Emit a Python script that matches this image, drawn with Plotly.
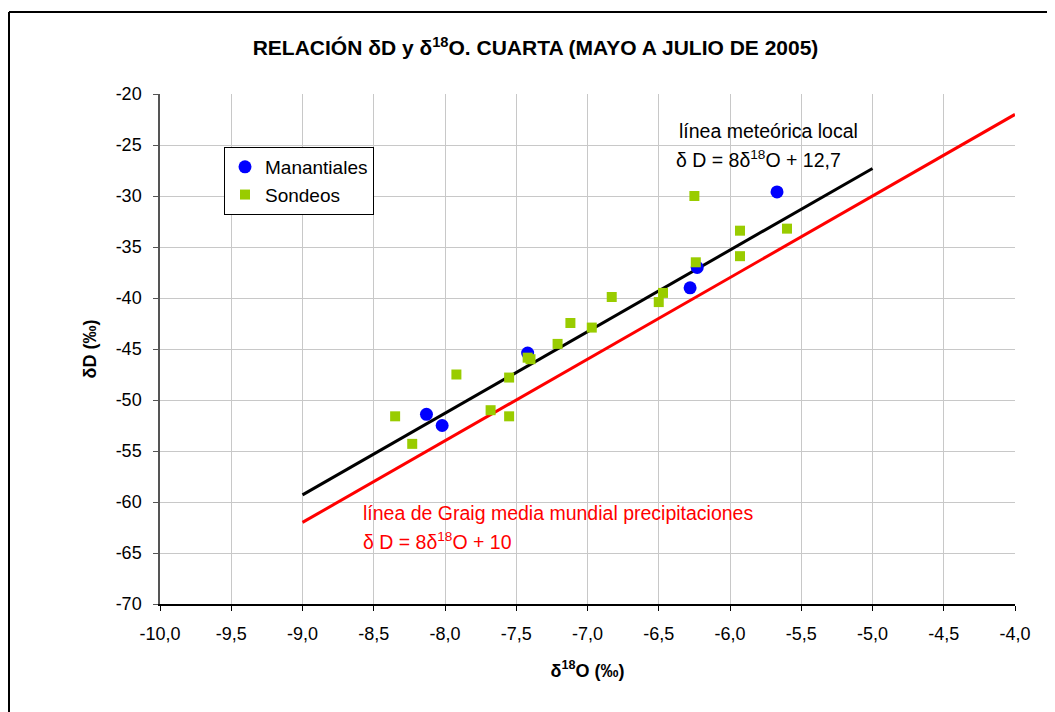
import plotly.graph_objects as go

# Data
man_x = [-5.67, -6.23, -6.28, -7.42, -8.13, -8.02]
man_y = [-29.6, -37.0, -39.0, -45.4, -51.4, -52.5]

son_x = [-8.35, -8.23, -7.92, -7.68, -7.55, -7.55, -7.42, -7.40, -7.21, -7.12,
         -6.97, -6.83, -6.47, -6.50, -6.25, -6.24, -5.93, -5.93, -5.60]
son_y = [-51.6, -54.3, -47.5, -51.0, -47.8, -51.6, -45.85, -46.0, -44.5, -42.45,
         -42.9, -39.9, -39.5, -40.4, -30.0, -36.5, -33.4, -35.9, -33.2]

lml_x = [-9.0, -5.0]
lmwl_x = [-9.0, -4.0]
lml_y = [8 * v + 12.7 for v in lml_x]
lmwl_y = [8 * v + 10 for v in lmwl_x]

x_ticks = [-10.0, -9.5, -9.0, -8.5, -8.0, -7.5, -7.0, -6.5, -6.0, -5.5, -5.0, -4.5, -4.0]
x_ticktext = [f"{v:.1f}".replace(".", ",") for v in x_ticks]
y_ticks = [-20, -25, -30, -35, -40, -45, -50, -55, -60, -65, -70]
y_ticktext = [str(v) for v in y_ticks]

FONT = "Liberation Sans, Arial, sans-serif"

L, T, PW, PH = 152, 86, 855, 510
W, H = 1055, 712

fig = go.Figure()
fig.add_trace(go.Scatter(x=lml_x, y=lml_y, mode="lines", line=dict(color="black", width=3),
                         showlegend=False, hoverinfo="skip"))
fig.add_trace(go.Scatter(x=lmwl_x, y=lmwl_y, mode="lines", line=dict(color="#ff0000", width=3),
                         showlegend=False, hoverinfo="skip"))
fig.add_trace(go.Scatter(x=man_x, y=man_y, mode="markers", name="Manantiales",
                         marker=dict(symbol="circle", size=13, color="#0000ff")))
fig.add_trace(go.Scatter(x=son_x, y=son_y, mode="markers", name="Sondeos",
                         marker=dict(symbol="square", size=10, color="#99cc00")))

fig.update_layout(
    width=W, height=H,
    paper_bgcolor="white", plot_bgcolor="white",
    margin=dict(l=L, r=W - L - PW, t=T, b=H - T - PH),
    font=dict(family=FONT, size=18, color="black"),
    title=dict(text="<b>RELACIÓN δD y δ<sup>18</sup>O. CUARTA (MAYO A JULIO DE 2005)</b>",
               x=0.5, xref="container", xanchor="center",
               y=1 - 40 / H, yref="container", yanchor="middle",
               font=dict(family=FONT, size=21, color="black")),
    showlegend=True,
    legend=dict(x=(224 - 8 - L) / PW, y=(T + PH - (147 - 8)) / PH, xanchor="left", yanchor="top",
                bordercolor="black", borderwidth=1, bgcolor="white", itemwidth=30,
                font=dict(family=FONT, size=19), tracegroupgap=0),
    xaxis=dict(range=[-10, -4], tickvals=x_ticks, ticktext=x_ticktext,
               showgrid=True, gridcolor="#c8c8c8", gridwidth=1,
               showline=True, linecolor="black", linewidth=1.5,
               ticks="outside", ticklen=5, tickcolor="black", ticklabelstandoff=8,
               tickfont=dict(family=FONT, size=18),
               zeroline=False,
               title=dict(text="<b>δ<sup>18</sup>O (‰)</b>", font=dict(family=FONT, size=18), standoff=21)),
    yaxis=dict(range=[-70, -20], tickvals=y_ticks, ticktext=y_ticktext,
               showgrid=True, gridcolor="#c8c8c8", gridwidth=1,
               showline=True, linecolor="#555555", linewidth=1.5,
               ticks="outside", ticklen=5, tickcolor="#555555", ticklabelstandoff=8,
               tickfont=dict(family=FONT, size=18),
               zeroline=False,
               title=dict(text="<b>δD (‰)</b>", font=dict(family=FONT, size=18), standoff=14)),
)

ann_font_k = dict(family=FONT, size=19.5, color="black")
ann_font_r = dict(family=FONT, size=19.5, color="#ff0000")
fig.add_annotation(x=-6.37, y=-23.6, text="línea meteórica local", showarrow=False,
                   xanchor="left", yanchor="middle", font=ann_font_k)
fig.add_annotation(x=-6.39, y=-26.4, text="δ D = 8δ<sup>18</sup>O + 12,7", showarrow=False,
                   xanchor="left", yanchor="middle", font=ann_font_k)
fig.add_annotation(x=-8.59, y=-61.1, text="línea de Graig media mundial precipitaciones", showarrow=False,
                   xanchor="left", yanchor="middle", font=ann_font_r)
fig.add_annotation(x=-8.59, y=-63.8, text="δ D = 8δ<sup>18</sup>O + 10", showarrow=False,
                   xanchor="left", yanchor="middle", font=ann_font_r)

# outer chart frame (screen coords converted to paper coords)
def px(xs):
    return (xs - 8 - L) / PW

def py(ys):
    return (T + PH - (ys - 8)) / PH

frame = dict(color="black", width=2)
fig.add_shape(type="line", xref="paper", yref="paper",
              x0=px(9), x1=px(1070), y0=py(12), y1=py(12), line=frame)
fig.add_shape(type="line", xref="paper", yref="paper",
              x0=px(9), x1=px(9), y0=py(12), y1=py(730), line=frame)

fig.write_html("out.html")
